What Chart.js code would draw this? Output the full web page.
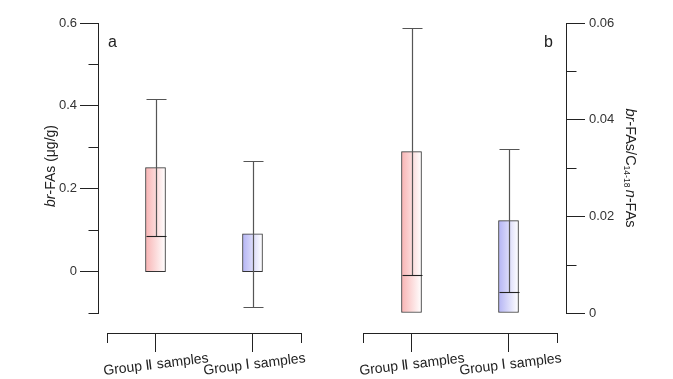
<!DOCTYPE html>
<html><head><meta charset="utf-8">
<script src="https://cdn.jsdelivr.net/npm/chart.js@4.4.0/dist/chart.umd.min.js"></script>
<style>
html,body{margin:0;padding:0;background:#fff;}
#wrap{position:relative;width:673px;height:379px;overflow:hidden;background:#fff;}
#ca{position:absolute;left:0;top:0;}
#cb{position:absolute;left:340px;top:0;}
</style></head><body>
<div id="wrap"><canvas id="ca" width="340" height="379"></canvas><canvas id="cb" width="333" height="379"></canvas></div>
<script>
// ---- data ----
const categories = ['Group Ⅱ samples', 'Group Ⅰ samples'];

// panel a: br-FAs (µg/g)
const aQ1 = [0, 0];
const aQ3 = [0.251, 0.091];
const aMedian = [0.086, 0];
const aMax = [0.416, 0.266];
const aMin = [0, -0.085];
const aRange = [-0.1, 0.6];
const aStep = 0.1;
const aTickLabels = ['0', '0.2', '0.4', '0.6'];
const aTickValues = [0, 0.2, 0.4, 0.6];

// panel b: br-FAs / C14-18 n-FAs
const bQ1 = [0, 0];
const bQ3 = [0.0334, 0.0191];
const bMedian = [0.0078, 0.0043];
const bMax = [0.059, 0.0339];
const bMin = [0, 0];
const bRange = [0, 0.06];
const bStep = 0.01;
const bTickLabels = ['0', '0.02', '0.04', '0.06'];
const bTickValues = [0, 0.02, 0.04, 0.06];

const boxStart = ['#f8b4b4', '#b4b4f4'];
const FONT = "'Liberation Sans', Arial, sans-serif";

function majorIndex(v, vals) {
  for (let i = 0; i < vals.length; i++) if (Math.abs(v - vals[i]) < 1e-9) return i;
  return -1;
}

function drawRich(ctx, segs, cx, cy, angle) {
  ctx.save();
  ctx.translate(cx, cy);
  ctx.rotate(angle);
  let w = 0;
  segs.forEach(s => { ctx.font = s.font; s.w = ctx.measureText(s.t).width; w += s.w; });
  let x = -w / 2;
  ctx.textBaseline = 'middle';
  ctx.textAlign = 'left';
  ctx.fillStyle = '#222';
  segs.forEach(s => { ctx.font = s.font; ctx.fillText(s.t, x, s.dy || 0); x += s.w; });
  ctx.restore();
}

function makeChart(canvas, side, q1, q3, med, mx, mn, range, step, tickVals, tickLabels, letter, title) {
  const isLeft = side === 'left';
  const boxPlugin = {
    id: 'box' + side,
    afterDatasetsDraw(chart) {
      const ctx = chart.ctx, xs = chart.scales.x, ys = chart.scales.y;
      ctx.save();
      for (let i = 0; i < categories.length; i++) {
        const cx = Math.round(xs.getPixelForValue(i)) + 0.5;
        const half = 10;
        const yMed = ys.getPixelForValue(med[i]);
        const yMax = Math.round(ys.getPixelForValue(mx[i])) + 0.5;
        ctx.strokeStyle = '#555';
        ctx.lineWidth = 1.2;
        ctx.beginPath();
        ctx.moveTo(cx, yMed); ctx.lineTo(cx, yMax);
        ctx.moveTo(cx - half, yMax); ctx.lineTo(cx + half, yMax);
        if (mn[i] < q1[i]) {
          const yMin = Math.round(ys.getPixelForValue(mn[i])) + 0.5;
          ctx.moveTo(cx, yMed); ctx.lineTo(cx, yMin);
          ctx.moveTo(cx - half, yMin); ctx.lineTo(cx + half, yMin);
        }
        ctx.stroke();
        if (med[i] > q1[i] && med[i] < q3[i]) {
          ctx.strokeStyle = '#222';
          ctx.lineWidth = 1.1;
          ctx.beginPath();
          const ym = Math.round(yMed) + 0.5;
          ctx.moveTo(cx - half, ym); ctx.lineTo(cx + half, ym);
          ctx.stroke();
        }
      }
      ctx.restore();
    },
    afterDraw(chart) {
      const ctx = chart.ctx, xs = chart.scales.x, ys = chart.scales.y;
      ctx.save();
      ctx.strokeStyle = '#222';
      ctx.lineWidth = 1;
      ctx.beginPath();
      // minor y ticks
      const ax = isLeft ? Math.round(ys.right) + 0.5 : Math.round(ys.left) + 0.5;
      ys.ticks.forEach(t => {
        if (majorIndex(t.value, tickVals) < 0) {
          const y = Math.round(ys.getPixelForValue(t.value)) + 0.5;
          ctx.moveTo(ax, y); ctx.lineTo(isLeft ? ax - 10 : ax + 10, y);
        }
      });
      // x bracket end ticks
      const by = Math.round(xs.top);
      [xs.left, xs.right].forEach(px => {
        const x = Math.round(px) + 0.5;
        ctx.moveTo(x, by); ctx.lineTo(x, by + 10);
      });
      ctx.stroke();
      // panel letter
      ctx.fillStyle = '#222';
      ctx.font = '16px ' + FONT;
      ctx.textBaseline = 'alphabetic';
      ctx.textAlign = 'left';
      ctx.fillText(letter, isLeft ? 108 : 204, 47);
      // axis title
      title(ctx);
      ctx.restore();
    }
  };

  return new Chart(canvas, {
    type: 'bar',
    data: {
      labels: categories,
      datasets: [{
        data: q1.map((v, i) => [v, q3[i]]),
        xAxisID: 'x', yAxisID: 'y',
        barThickness: 20,
        borderColor: '#333',
        borderWidth: 1,
        borderSkipped: false,
        backgroundColor(c) {
          const chart = c.chart;
          if (!chart.chartArea || !chart.scales.x) return boxStart[c.dataIndex];
          const cx = chart.scales.x.getPixelForValue(c.dataIndex);
          const g = chart.ctx.createLinearGradient(cx - 10, 0, cx + 10, 0);
          g.addColorStop(0, boxStart[c.dataIndex]);
          g.addColorStop(1, '#ffffff');
          return g;
        }
      }]
    },
    options: {
      responsive: false,
      animation: false,
      layout: { padding: isLeft ? { left: 0, right: 39, top: 23, bottom: 0 } : { left: 23, right: 0, top: 23, bottom: 0 } },
      plugins: { legend: { display: false }, tooltip: { enabled: false }, title: { display: false } },
      scales: {
        x: {
          type: 'category', position: 'bottom', weight: 1, offset: true,
          grid: { display: true, drawOnChartArea: false, offset: false, tickLength: 19, color: '#222', tickColor: '#222', lineWidth: 1 },
          border: { display: true, color: '#222', width: 1 },
          ticks: { autoSkip: false, minRotation: 7, maxRotation: 7, labelOffset: 53, padding: -2,
                   color: '#222', font: { family: FONT, size: 14 } },
          afterFit(s) { s.height = 46; s.paddingLeft = 0; s.paddingRight = 0; }
        },
        xs: {
          type: 'linear', position: 'bottom', weight: 0, display: true,
          grid: { display: false }, border: { display: false }, ticks: { display: false },
          afterFit(s) { s.height = 20; s.paddingLeft = 0; s.paddingRight = 0; }
        },
        y: {
          type: 'linear', position: side, weight: 1, min: range[0], max: range[1],
          ticks: {
            stepSize: step, padding: isLeft ? 3 : 4, color: '#333', font: { family: FONT, size: 13 },
            callback(v) { const k = majorIndex(v, tickVals); return k < 0 ? '' : tickLabels[k]; }
          },
          grid: { display: true, drawOnChartArea: false, tickLength: isLeft ? 18 : 19, lineWidth: 1,
                  tickColor(c) { return (c.tick && majorIndex(c.tick.value, tickVals) >= 0) ? '#222' : 'rgba(0,0,0,0)'; } },
          border: { display: true, color: '#222', width: 1 },
          afterFit(s) { s.width = isLeft ? 98 : 107; s.paddingTop = 0; s.paddingBottom = 0; }
        },
        ys: {
          type: 'linear', position: side, weight: 0, display: true,
          grid: { display: false }, border: { display: false }, ticks: { display: false },
          afterFit(s) { s.width = 9; s.paddingTop = 0; s.paddingBottom = 0; }
        }
      }
    },
    plugins: [boxPlugin]
  });
}

makeChart(document.getElementById('ca'), 'left', aQ1, aQ3, aMedian, aMax, aMin, aRange, aStep,
  aTickValues, aTickLabels, 'a', ctx => {
    drawRich(ctx, [
      { t: 'br', font: 'italic 14px ' + FONT },
      { t: '-FAs (μg/g)', font: '14px ' + FONT }
    ], 51, 166, -Math.PI / 2);
  });

makeChart(document.getElementById('cb'), 'right', bQ1, bQ3, bMedian, bMax, bMin, bRange, bStep,
  bTickValues, bTickLabels, 'b', ctx => {
    drawRich(ctx, [
      { t: 'br', font: 'italic 14.5px ' + FONT },
      { t: '-FAs/C', font: '14.5px ' + FONT },
      { t: '14-18', font: '8.5px ' + FONT, dy: 4 },
      { t: ' ', font: '8.5px ' + FONT },
      { t: 'n', font: 'italic 14.5px ' + FONT },
      { t: '-FAs', font: '14.5px ' + FONT }
    ], 290, 168, Math.PI / 2);
  });
</script>
</body></html>
